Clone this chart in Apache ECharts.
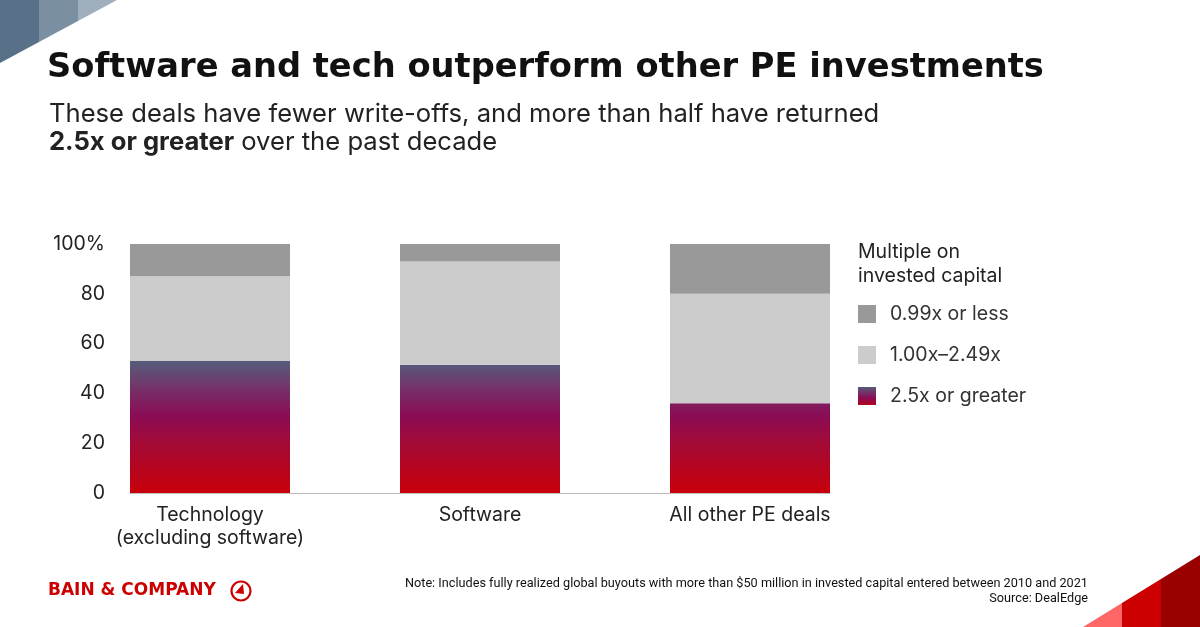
<!DOCTYPE html>
<html>
<head>
<meta charset="utf-8">
<script src="https://cdn.jsdelivr.net/npm/echarts@6/dist/echarts.min.js"></script>
<style>
html,body{margin:0;padding:0;background:#fff;}
#c{width:1200px;height:627px;}
</style>
</head>
<body>
<div id="c"></div>
<script>
// ---- data ----
const categories = ['Technology\n(excluding software)', 'Software', 'All other PE deals'];
const seriesNames = ['2.5x or greater', '1.00x–2.49x', '0.99x or less'];
const greater25 = [53, 51.5, 36];
const mid100to249 = [34, 41.5, 44];
const less099 = [13, 7, 20];
const yTicks = [0, 20, 40, 60, 80, 100];

const FONT = 'Inter, "Noto Sans", sans-serif';
const TXT = '#222222';
const BAR_W = 160;

const chart = echarts.init(document.getElementById('c'), null, {renderer: 'canvas'});

const gradStops = [
  {offset: 0, color: '#c8000a'},
  {offset: 0.38, color: '#a40a35'},
  {offset: 0.6, color: '#8a0c55'},
  {offset: 0.8, color: '#763068'},
  {offset: 1, color: '#575a7a'}
];

const option = {
  animation: false,
  backgroundColor: '#ffffff',
  textStyle: {fontFamily: FONT},
  title: [
    {
      text: 'Software and tech outperform other PE investments',
      left: 47, top: 46, padding: 0,
      textStyle: {fontFamily: '"DejaVu Sans", sans-serif', fontSize: 33.7, fontWeight: 'bold', color: '#111', lineHeight: 44}
    },
    {
      text: 'These deals have fewer write-offs, and more than half have returned\n{b|2.5x or greater} over the past decade',
      left: 49, top: 100, padding: 0,
      textStyle: {
        fontFamily: FONT, fontSize: 25.6, fontWeight: 'normal', color: TXT, lineHeight: 28.5,
        rich: {b: {fontFamily: FONT, fontSize: 25.6, fontWeight: 'bold', color: TXT, lineHeight: 28.5}}
      }
    },
    {
      text: 'Multiple on\ninvested capital',
      left: 858, top: 240, padding: 0,
      textStyle: {fontFamily: FONT, fontSize: 19.5, fontWeight: 'normal', color: TXT, lineHeight: 24}
    }
  ],
  legend: {
    orient: 'vertical',
    left: 858, top: 304, padding: 0,
    itemWidth: 18, itemHeight: 18,
    itemGap: 21,
    icon: 'rect',
    textStyle: {fontFamily: FONT, fontSize: 19.5, color: '#333', lineHeight: 18, padding: [0, 0, 0, 9]},
    data: [
      {name: '0.99x or less'},
      {name: '1.00x–2.49x'},
      {name: '2.5x or greater', itemStyle: {color: new echarts.graphic.LinearGradient(0, 0, 0, 1, [
        {offset: 0, color: '#575a7a'}, {offset: 0.6, color: '#8a0c55'}, {offset: 1, color: '#b0051f'}
      ])}}
    ]
  },
  grid: {left: 75, right: 315, top: 244, bottom: 134},
  xAxis: {
    type: 'category',
    data: categories,
    boundaryGap: true,
    axisLine: {show: false},
    axisTick: {show: false},
    axisLabel: {fontFamily: FONT, fontSize: 19.5, color: TXT, lineHeight: 23.5, margin: 10, interval: 0}
  },
  yAxis: {
    type: 'value',
    min: yTicks[0], max: yTicks[yTicks.length - 1], interval: 20,
    splitLine: {show: false},
    axisLine: {show: false},
    axisTick: {show: false},
    axisLabel: {
      fontFamily: FONT, fontSize: 19.5, color: TXT, margin: -30,
      padding: [0, 0, 10, 0],
      formatter: v => (v === 100 ? '100%' : String(v))
    }
  },
  series: [
    {name: seriesNames[0], type: 'bar', stack: 'a', barWidth: BAR_W, data: greater25,
     itemStyle: {color: '#a40a35'}},
    {name: seriesNames[1], type: 'bar', stack: 'a', barWidth: BAR_W, data: mid100to249,
     itemStyle: {color: '#cccccc'}},
    {name: seriesNames[2], type: 'bar', stack: 'a', barWidth: BAR_W, data: less099,
     itemStyle: {color: '#999999'}}
  ],
  graphic: []
};

chart.setOption(option);

// global gradient for the bottom series, mapped to value axis via library scale
const yBottom = chart.convertToPixel({yAxisIndex: 0}, 0);
const yTop = chart.convertToPixel({yAxisIndex: 0}, 52);
const xFirst = chart.convertToPixel({xAxisIndex: 0}, 0);
const xLast = chart.convertToPixel({xAxisIndex: 0}, categories.length - 1);

const NOTE_FONT = '12.7px "Liberation Sans Narrow", "Roboto", sans-serif';
const deco = [
  // top-left corner triangles
  {type: 'polygon', shape: {points: [[0,0],[39,0],[39,42],[0,63]]}, style: {fill: '#587189'}, silent: true},
  {type: 'polygon', shape: {points: [[39,0],[78,0],[78,21],[39,42]]}, style: {fill: '#7b8fa3'}, silent: true},
  {type: 'polygon', shape: {points: [[78,0],[117,0],[78,21]]}, style: {fill: '#a0afbe'}, silent: true},
  // bottom-right corner triangles
  {type: 'polygon', shape: {points: [[1083,627],[1122,603],[1122,627]]}, style: {fill: '#ff6666'}, silent: true},
  {type: 'polygon', shape: {points: [[1122,603],[1161,579],[1161,627],[1122,627]]}, style: {fill: '#cc0000'}, silent: true},
  {type: 'polygon', shape: {points: [[1161,579],[1200,555],[1200,627],[1161,627]]}, style: {fill: '#990000'}, silent: true},
  // x axis baseline
  {type: 'line', shape: {x1: xFirst - BAR_W / 2, y1: yBottom + 0.5, x2: xLast + BAR_W / 2, y2: yBottom + 0.5},
   style: {stroke: '#bbbbbb', lineWidth: 1}, silent: true},
  // logo
  {type: 'text', left: 48, top: 582, style: {text: 'BAIN & COMPANY', fill: '#cc0000',
    font: '600 17px "DejaVu Sans", sans-serif'}, silent: true},
  {type: 'circle', shape: {cx: 241, cy: 591, r: 9.5}, style: {fill: 'none', stroke: '#cc0000', lineWidth: 2.2}, silent: true},
  {type: 'polygon', shape: {points: [[235,593],[243,584],[244,594]]}, style: {fill: '#cc0000'}, silent: true},
  // note
  {type: 'text', x: 1088, y: 577, style: {text: 'Note: Includes fully realized global buyouts with more than $50 million in invested capital entered between 2010 and 2021',
    fill: '#111', font: NOTE_FONT, align: 'right'}, silent: true},
  {type: 'text', x: 1088, y: 592, style: {text: 'Source: DealEdge',
    fill: '#111', font: NOTE_FONT, align: 'right'}, silent: true}
];

chart.setOption({
  series: [{
    itemStyle: {color: {type: 'linear', x: 0, y: yBottom, x2: 0, y2: yTop, global: true, colorStops: gradStops}}
  }],
  graphic: deco
});
</script>
</body>
</html>
